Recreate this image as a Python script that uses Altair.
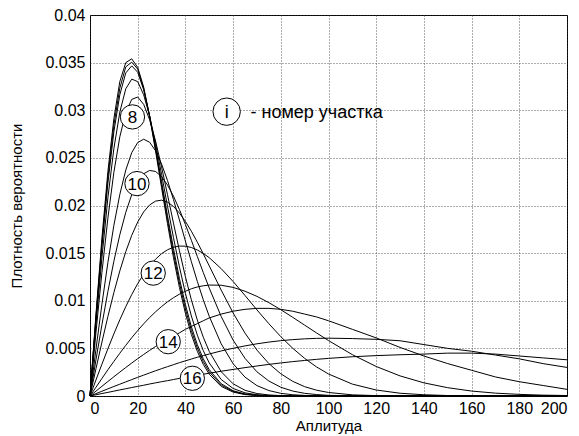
import altair as alt
import pandas as pd

# ---------------- data ----------------
X = [0, 2.5, 5, 7.5, 10, 12.5, 15, 17.5, 20, 22.5, 25, 27.5, 30, 32.5, 35, 37.5,
     40, 42.5, 45, 47.5, 50, 55, 60, 65, 70, 75, 80, 85, 90, 95, 100,
     110, 120, 130, 140, 150, 160, 170, 180, 190, 200]

Z10 = [0] * 10

S1 = [0, .00856, .01657, .02355, .02910, .03301, .03500, .03540, .03450, .03243, .02934,
      .02572, .02188, .01809, .01454, .01139, .00869, .00646, .00469, .00332, .00229,
      .00101, .00041, .00015, .00005, .00002, 0, 0, 0, 0, 0] + Z10
S2 = [0, .00832, .01612, .02295, .02842, .03232, .03455, .03505, .03432, .03229, .02938,
      .02592, .02221, .01851, .01501, .01186, .00914, .00687, .00504, .00361, .00253,
      .00115, .00048, .00018, .00007, .00003, 0, 0, 0, 0, 0] + Z10
S3 = [0, .00808, .01568, .02234, .02773, .03163, .03392, .03466, .03399, .03215, .02942,
      .02612, .02254, .01892, .01547, .01233, .00959, .00727, .00539, .00390, .00276,
      .00129, .00055, .00021, .00008, .00003, 0, 0, 0, 0, 0] + Z10
S7 = [0, .00748, .01454, .02080, .02596, .02981, .03225, .03327, .03301, .03163, .02938,
      .02651, .02328, .01992, .01663, .01355, .01078, .00840, .00639, .00476, .00347,
      .00173, .00079, .00033, .00013, .00005, .00002, 0, 0, 0, 0] + Z10
S8 = [0, .00666, .01298, .01867, .02347, .02721, .02977, .03114, .03139, .03062, .02900,
      .02676, .02406, .02113, .01815, .01524, .01253, .01010, .00797, .00617, .00468,
      .00255, .00128, .00060, .00026, .00011, .00004, .00001, 0, 0, 0] + Z10
S9 = [0, .00491, .00964, .01401, .01790, .02116, .02372, .02555, .02661, .02696, .02664,
      .02574, .02436, .02262, .02062, .01847, .01627, .01410, .01203, .01010, .00836,
      .00548, .00339, .00198, .00109, .00057, .00028, .00013, .00006, .00003, .00001] + Z10
S10 = [0, .00380, .00749, .01096, .01414, .01693, .01928, .02114, .02249, .02333, .02368,
       .02357, .02304, .02215, .02098, .01957, .01801, .01635, .01465, .01296, .01133,
       .00835, .00587, .00395, .00254, .00157, .00092, .00052, .00028, .00015, .00007,
       .00002, 0, 0, 0, 0, 0, 0, 0, 0, 0]
S11 = [0, .00286, .00566, .00834, .01085, .01313, .01515, .01687, .01826, .01933, .02006,
       .02046, .02056, .02036, .01990, .01921, .01833, .01730, .01615, .01493, .01366,
       .01112, .00872, .00660, .00482, .00340, .00233, .00154, .00098, .00061, .00037,
       .00012, .00004, .00001, 0, 0, 0, 0, 0, 0, 0]
S12 = [0, .00168, .00334, .00496, .00652, .00800, .00938, .01065, .01179, .01280, .01366,
       .01437, .01494, .01535, .01562, .01574, .01573, .01559, .01533, .01497, .01452,
       .01337, .01202, .01055, .00904, .00759, .00623, .00501, .00395, .00305, .00231,
       .00125, .00063, .00029, .00013, .00005, .00002, 0, 0, 0, 0]
S13 = [0, .00092, .00184, .00275, .00363, .00449, .00532, .00612, .00687, .00758, .00824,
       .00884, .00939, .00989, .01032, .01069, .01100, .01126, .01145, .01157, .01165,
       .01163, .01140, .01100, .01046, .00980, .00906, .00826, .00744, .00662, .00582,
       .00434, .00310, .00211, .00138, .00087, .00052, .00030, .00017, .00009, .00005]
S14 = [0, .00051, .00102, .00152, .00202, .00251, .00299, .00346, .00392, .00436, .00479,
       .00520, .00559, .00596, .00630, .00663, .00700, .00730, .00760, .00790, .00820,
       .00860, .00890, .00910, .00920, .00920, .00910, .00890, .00860, .00830, .00790,
       .00700, .00610, .00510, .00420, .00340, .00270, .00200, .00150, .00110, .00070]
S15 = [0, .00025, .00050, .00075, .00100, .00124, .00148, .00172, .00196, .00219, .00242,
       .00265, .00287, .00308, .00329, .00350, .00369, .00388, .00407, .00424, .00441,
       .00473, .00501, .00526, .00548, .00566, .00581, .00592, .00600, .00605, .00607,
       .00603, .00595, .00580, .00540, .00500, .00470, .00430, .00390, .00340, .00300]
S16 = [0, .00013, .00026, .00038, .00051, .00064, .00076, .00089, .00101, .00113, .00126,
       .00138, .00150, .00161, .00173, .00185, .00196, .00207, .00218, .00229, .00239,
       .00260, .00279, .00298, .00315, .00332, .00347, .00361, .00373, .00385, .00395,
       .00412, .00424, .00433, .00440, .00450, .00450, .00440, .00420, .00400, .00380]

CURVES = {"1": S1, "2": S2, "3": S3, "7": S7, "8": S8, "9": S9, "10": S10,
          "11": S11, "12": S12, "13": S13, "14": S14, "15": S15, "16": S16}

LABEL_TEXT = ["8", "10", "12", "14", "16"]
LABEL_X = [17.8, 19.7, 26.5, 32.8, 42.9]
LABEL_Y = [0.0293, 0.0223, 0.0129, 0.0057, 0.00186]

KEY_TEXT = ["i"]
KEY_X = [57.3]
KEY_Y = [0.02985]
KEY_NOTE = ["- номер участка"]
KEY_NOTE_X = [67.3]

X_TICKS = list(range(0, 201, 20))
Y_TICKS = [0, 0.005, 0.01, 0.015, 0.02, 0.025, 0.03, 0.035, 0.04]

# ---------------- tables ----------------
rows = []
for name, ys in CURVES.items():
    for xv, yv in zip(X, ys):
        rows.append({"curve": name, "x": xv, "y": yv})
df = pd.DataFrame(rows)

lab = pd.DataFrame({"t": LABEL_TEXT, "x": LABEL_X, "y": LABEL_Y})
key = pd.DataFrame({"t": KEY_TEXT, "x": KEY_X, "y": KEY_Y})
note = pd.DataFrame({"t": KEY_NOTE, "x": KEY_NOTE_X, "y": KEY_Y})

FONT = "Liberation Sans"
xs = alt.Scale(domain=[0, 200], nice=False, zero=False)
ys_ = alt.Scale(domain=[0, 0.04], nice=False)

x_enc = alt.X("x:Q", scale=xs, axis=alt.Axis(
    values=X_TICKS, title="Аплитуда", format="d", labelPadding=4,
    titleY=29, titleBaseline="middle"))
y_enc = alt.Y("y:Q", scale=ys_, axis=alt.Axis(
    values=Y_TICKS, title="Плотность вероятности", format=".3~f", labelPadding=5,
    titleX=-74, titleBaseline="middle"))

lines = alt.Chart(df).mark_line(color="black", strokeWidth=1).encode(
    x=x_enc, y=y_enc, detail="curve:N")

circ = alt.Chart(lab).mark_circle(fill="white", stroke="black", strokeWidth=1,
                                  opacity=1, size=590).encode(x="x:Q", y="y:Q")
txt = alt.Chart(lab).mark_text(font=FONT, fontSize=17, color="black",
                               baseline="middle", align="center", dy=1).encode(
    x="x:Q", y="y:Q", text="t:N")

kcirc = alt.Chart(key).mark_circle(fill="white", stroke="black", strokeWidth=1,
                                   opacity=1, size=750).encode(x="x:Q", y="y:Q")
ktxt = alt.Chart(key).mark_text(font=FONT, fontSize=18, color="black",
                                baseline="middle", align="center", dy=1).encode(
    x="x:Q", y="y:Q", text="t:N")
ntxt = alt.Chart(note).mark_text(font=FONT, fontSize=18, color="black",
                                 baseline="middle", align="left", dy=1).encode(
    x="x:Q", y="y:Q", text="t:N")

chart = alt.layer(lines, circ, txt, kcirc, ktxt, ntxt).properties(
    width=477, height=381,
    autosize=alt.AutoSizeParams(type="none"),
    padding={"left": 90, "top": 15, "right": 12, "bottom": 40},
    background="white",
).configure_view(
    stroke="black", strokeWidth=1
).configure_axis(
    labelFont=FONT, labelFontSize=16, labelColor="black",
    titleFont=FONT, titleFontSize=15, titleFontWeight="normal", titleColor="black",
    ticks=False, tickSize=0, domain=False,
    grid=True, gridColor="#333333", gridDash=[1, 2], gridWidth=1, gridOpacity=0.8,
)

chart.save("out.html", embed_options={"renderer": "svg", "actions": False})
